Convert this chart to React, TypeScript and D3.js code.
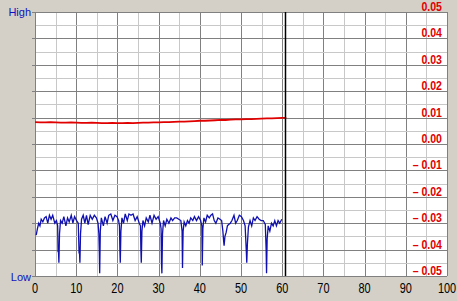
import React from "react";
import * as d3 from "d3";

const xTicks = [0, 10, 20, 30, 40, 50, 60, 70, 80, 90, 100];
const yTickValues = [0.05, 0.04, 0.03, 0.02, 0.01, 0.0, -0.01, -0.02, -0.03, -0.04, -0.05];
const yTickLabels = ["0.05", "0.04", "0.03", "0.02", "0.01", "0.00", "– 0.01", "– 0.02", "– 0.03", "– 0.04", "– 0.05"];
const cursorX = 60.8;

const redSeries: [number, number][] = [
  [0, 0.0083], [1.25, 0.0082], [2.5, 0.0082], [3.75, 0.0083], [5, 0.0082], [6.25, 0.0081], [7.5, 0.0081],
  [8.75, 0.0082], [10, 0.0081], [11.25, 0.008], [12.5, 0.008], [13.75, 0.0081], [15, 0.008], [16.25, 0.0079],
  [17.5, 0.0079], [18.75, 0.008], [20, 0.0079], [21.25, 0.0079], [22.5, 0.008], [23.75, 0.0079], [25, 0.008],
  [26.25, 0.0081], [27.5, 0.0081], [28.75, 0.0082], [30, 0.0082], [31.25, 0.0083], [32.5, 0.0083], [33.75, 0.0084],
  [35, 0.0085], [36.25, 0.0085], [37.5, 0.0086], [38.75, 0.0087], [40, 0.0088], [41.25, 0.0088], [42.5, 0.0089],
  [43.75, 0.009], [45, 0.0091], [46.25, 0.0091], [47.5, 0.0092], [48.75, 0.0093], [50, 0.0093], [51.25, 0.0094],
  [52.5, 0.0094], [53.75, 0.0095], [55, 0.0096], [56.25, 0.0097], [57.5, 0.0097], [58.75, 0.0098], [60, 0.0099], [61, 0.0099],
];

const blueSeries: [number, number][] = [
  [0.3, -0.0345], [0.6, -0.032], [0.9, -0.03], [1.2, -0.031], [1.5, -0.0285], [1.9, -0.0295], [2.3, -0.028], [2.7, -0.0275],
  [3.1, -0.03], [3.5, -0.027], [3.9, -0.0285], [4.3, -0.027], [4.8, -0.03], [5.2, -0.029],
  [5.5, -0.031], [5.6, -0.041], [5.7, -0.0405], [5.8, -0.045], [5.95, -0.034], [6.2, -0.029], [6.6, -0.03], [7.0, -0.0275],
  [7.5, -0.031], [7.9, -0.028], [8.3, -0.0295], [8.8, -0.027], [9.2, -0.03], [9.6, -0.0275], [10.1, -0.029], [10.5, -0.03],
  [10.7, -0.0415], [10.8, -0.041], [10.9, -0.045], [11.05, -0.034], [11.3, -0.0285], [11.7, -0.027], [12.1, -0.03], [12.5, -0.027],
  [12.9, -0.0305], [13.4, -0.027], [13.9, -0.0285], [14.4, -0.027], [14.9, -0.028], [15.3, -0.03],
  [15.5, -0.034], [15.6, -0.04], [15.7, -0.049], [15.85, -0.033], [16.1, -0.028], [16.6, -0.031], [17.0, -0.0275], [17.5, -0.03],
  [17.9, -0.027], [18.4, -0.0265], [18.9, -0.029], [19.4, -0.027], [19.9, -0.0275], [20.3, -0.029],
  [20.5, -0.031], [20.6, -0.04], [20.7, -0.045], [20.85, -0.033], [21.1, -0.028], [21.5, -0.03], [21.9, -0.0265], [22.4, -0.029],
  [22.8, -0.0265], [23.3, -0.027], [23.8, -0.0265], [24.3, -0.029], [24.8, -0.0275], [25.3, -0.03],
  [25.6, -0.031], [25.7, -0.04], [25.8, -0.045], [25.95, -0.033], [26.2, -0.029], [26.6, -0.031], [27.0, -0.028], [27.5, -0.0295],
  [27.9, -0.027], [28.4, -0.03], [28.9, -0.027], [29.4, -0.0285], [29.9, -0.0275], [30.4, -0.03],
  [30.6, -0.032], [30.7, -0.045], [30.8, -0.049], [30.95, -0.034], [31.2, -0.029], [31.6, -0.031], [32.0, -0.0285], [32.5, -0.03],
  [33.0, -0.028], [33.4, -0.029], [33.9, -0.028], [34.4, -0.028], [34.9, -0.0285], [35.4, -0.029],
  [35.7, -0.033], [35.8, -0.047], [35.95, -0.033], [36.2, -0.0295], [36.6, -0.031], [37.0, -0.029], [37.4, -0.03], [37.8, -0.028],
  [38.3, -0.029], [38.7, -0.0275], [39.2, -0.029], [39.7, -0.0275], [40.2, -0.029],
  [40.5, -0.031], [40.6, -0.046], [40.75, -0.032], [41.0, -0.028], [41.4, -0.0295], [41.8, -0.027], [42.3, -0.028], [42.7, -0.027],
  [43.1, -0.0265], [43.5, -0.029], [43.9, -0.03], [44.4, -0.028], [44.9, -0.0285], [45.3, -0.029],
  [45.6, -0.033], [45.8, -0.037], [45.9, -0.0385], [46.1, -0.035], [46.4, -0.0335], [46.7, -0.031], [47.0, -0.0305], [47.4, -0.03],
  [47.8, -0.029], [48.3, -0.027], [48.7, -0.03], [49.1, -0.029], [49.6, -0.027], [50.1, -0.0275], [50.6, -0.029], [51.0, -0.031],
  [51.3, -0.041], [51.4, -0.045], [51.55, -0.038], [51.8, -0.0315], [52.2, -0.029], [52.6, -0.031], [53.0, -0.028], [53.4, -0.029],
  [53.9, -0.0275], [54.4, -0.0285], [54.9, -0.029], [55.4, -0.029], [55.9, -0.0305],
  [56.1, -0.04], [56.2, -0.049], [56.35, -0.036], [56.6, -0.031], [57.0, -0.033], [57.4, -0.03], [57.8, -0.031], [58.2, -0.029],
  [58.6, -0.031], [59.0, -0.029], [59.4, -0.03], [59.9, -0.0285],
];

const W = 457;
const H = 301;
const L = 35;
const R = 447;
const T = 12;
const B = 276;

export default function App() {
  const x = d3.scaleLinear().domain([0, 100]).range([L, R]);
  const y = d3.scaleLinear().domain([-0.05, 0.05]).range([B, T]);

  const xGrid = d3.range(0, 101, 5);
  const yGrid = d3.range(-0.05, 0.0501, 0.005);

  const line = d3
    .line<[number, number]>()
    .x((d) => x(d[0]))
    .y((d) => y(d[1]));

  const font = "'Liberation Sans', Arial, sans-serif";

  return (
    <svg
      width={W}
      height={H}
      style={{ position: "absolute", left: 0, top: 0, display: "block" }}
    >
      <rect x={0} y={0} width={W} height={H} fill="#d4d0c8" />
      <rect x={L} y={T} width={R - L} height={B - T} fill="#ffffff" />
      {xGrid.map((v, i) => (
        <line
          key={"xg" + i}
          x1={Math.round(x(v)) + 0.5}
          x2={Math.round(x(v)) + 0.5}
          y1={T}
          y2={B}
          stroke={i % 2 === 0 ? "#808080" : "#c8c8c8"}
          strokeWidth={1}
        />
      ))}
      {yGrid.map((v, i) => (
        <line
          key={"yg" + i}
          x1={i % 2 === 0 ? L - 3 : L}
          x2={R}
          y1={Math.round(y(v)) + 0.5}
          y2={Math.round(y(v)) + 0.5}
          stroke={i % 2 === 0 ? "#808080" : "#c8c8c8"}
          strokeWidth={1}
        />
      ))}
      <line x1={L + 0.5} x2={L + 0.5} y1={T} y2={B} stroke="#808080" />
      <line x1={L} x2={R} y1={T + 0.5} y2={T + 0.5} stroke="#808080" />

      <path d={line(redSeries) || ""} fill="none" stroke="#e00000" strokeWidth={1.8} />
      <path d={line(blueSeries) || ""} fill="none" stroke="#1010b0" strokeWidth={1.3} />

      <line
        x1={x(cursorX)}
        x2={x(cursorX)}
        y1={T}
        y2={B}
        stroke="#000000"
        strokeWidth={1.5}
      />

      {yTickValues.map((v, i) => (
        <text
          key={"yl" + i}
          transform={`translate(442,${Math.round(y(v)) - 1}) scale(0.88,1)`}
          textAnchor="end"
          fontFamily={font}
          fontWeight="bold"
          fontSize={12}
          fill="#e00000"
        >
          {yTickLabels[i]}
        </text>
      ))}

      {xTicks.map((v, i) => (
        <text
          key={"xl" + i}
          transform={`translate(${x(v)},293) scale(0.78,1)`}
          textAnchor="middle"
          fontFamily={font}
          fontSize={14}
          fill="#000000"
        >
          {v}
        </text>
      ))}

      <text x={31} y={16} textAnchor="end" fontFamily={font} fontSize={11} fill="#1010c0">
        High
      </text>
      <text x={31} y={281} textAnchor="end" fontFamily={font} fontSize={11} fill="#1010c0">
        Low
      </text>
    </svg>
  );
}
